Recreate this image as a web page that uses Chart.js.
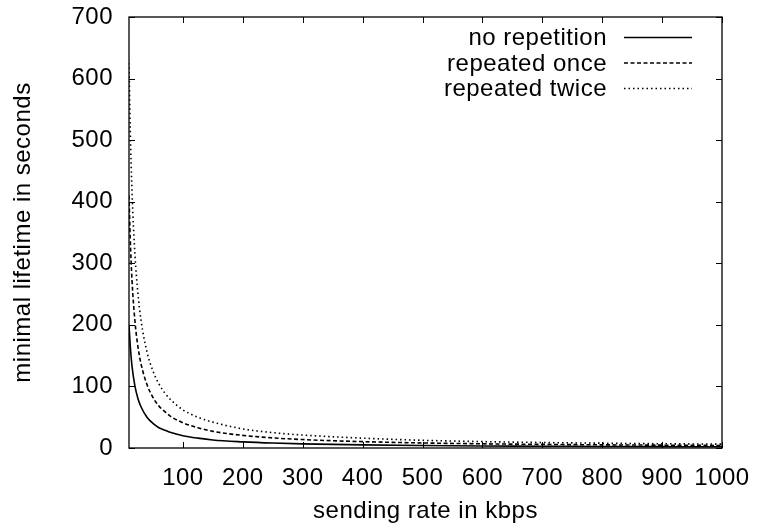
<!DOCTYPE html>
<html>
<head>
<meta charset="utf-8">
<script src="https://cdn.jsdelivr.net/npm/chart.js@4/dist/chart.umd.min.js"></script>
<style>
	html, body { margin:0; padding:0; background:#fff; }
	#wrap { width:759px; height:527px; }
</style>
</head>
<body>
<div id="wrap"><canvas id="chart" width="759" height="527"></canvas></div>
<script>
// --- dados ---
const rateKbps = [10, 12, 15, 20, 25, 30, 40, 50, 60, 70, 80, 100, 125, 150, 200, 250, 300, 400, 500, 600, 700, 800, 900, 1000];
const noRepetition = [200, 167, 133, 100, 80, 67, 50, 40, 33, 29, 25, 20, 16, 13, 10, 8, 6.7, 5, 4, 3.3, 2.9, 2.5, 2.2, 2];
const repeatedOnce = [410, 342, 273, 205, 164, 137, 103, 82, 68, 59, 51, 41, 33, 27, 20.5, 16.4, 13.7, 10.3, 8.2, 6.8, 5.9, 5.1, 4.6, 4.1];
const repeatedTwice = [625, 521, 417, 313, 250, 208, 156, 125, 104, 89, 78, 62, 50, 42, 31, 25, 21, 16, 12.5, 10.4, 8.9, 7.8, 6.9, 6.3];
const seriesLabels = ['no repetition', 'repeated once', 'repeated twice'];
const xTickValues = [100, 200, 300, 400, 500, 600, 700, 800, 900, 1000];
const yTickValues = [0, 100, 200, 300, 400, 500, 600, 700];

const FONT = '"Liberation Sans", Arial, Helvetica, sans-serif';
const FSIZE = 24;
const SPACING = '0.5px';

function pts(ys){ return rateKbps.map((x,i)=>({x, y:ys[i]})); }

// moldura estilo gnuplot com ticks para dentro nos quatro lados
const framePlugin = {
	id: 'gpFrame',
	beforeDraw(chart){ try{ chart.ctx.letterSpacing = SPACING; }catch{} },
	afterDraw(chart){
		const {ctx, chartArea:{left,right,top,bottom}} = chart;
		const xs = chart.scales.x, ys = chart.scales.y;
		const tl = 6;
		ctx.save();
		ctx.strokeStyle = '#000'; ctx.lineWidth = 1.3;
		ctx.strokeRect(left, top, right-left, bottom-top);
		ctx.lineWidth = 1;
		ctx.beginPath();
		for (const v of xTickValues){
			const px = Math.round(xs.getPixelForValue(v)) + .5;
			ctx.moveTo(px, bottom); ctx.lineTo(px, bottom-tl);
			ctx.moveTo(px, top); ctx.lineTo(px, top+tl);
		}
		for (const v of yTickValues){
			const py = Math.round(ys.getPixelForValue(v)) + .5;
			ctx.moveTo(left, py); ctx.lineTo(left+tl, py);
			ctx.moveTo(right, py); ctx.lineTo(right-tl, py);
		}
		ctx.stroke();
		ctx.restore();
	}
};

// legenda: texto alinhado à direita, amostra da linha à direita
const legendPlugin = {
	id: 'gpLegend',
	afterDraw(chart){
		const {ctx} = chart;
		const textRight = 607, x0 = 624, x1 = 692;
		const rowY = [37.5, 63, 88.5];
		ctx.save();
		ctx.font = FSIZE+'px '+FONT;
		try{ ctx.letterSpacing = SPACING; }catch{}
		ctx.textAlign = 'right'; ctx.textBaseline = 'middle';
		chart.data.datasets.forEach((ds,i)=>{
			const y = rowY[i];
			ctx.fillStyle = '#000';
			ctx.fillText(ds.label, textRight, y+1);
			ctx.strokeStyle = '#000';
			ctx.lineWidth = ds.borderWidth;
			ctx.setLineDash(ds.borderDash || []);
			ctx.beginPath(); ctx.moveTo(x0, y); ctx.lineTo(x1, y); ctx.stroke();
		});
		ctx.restore();
	}
};

const ctx = document.getElementById('chart').getContext('2d');
new Chart(ctx, {
	type: 'line',
	data: {
		datasets: [
			{ label: seriesLabels[0], data: pts(noRepetition), borderColor:'#000', borderWidth:1.6, borderDash:[], pointRadius:0, cubicInterpolationMode:'monotone', fill:false },
			{ label: seriesLabels[1], data: pts(repeatedOnce), borderColor:'#000', borderWidth:1.6, borderDash:[4,2.5], pointRadius:0, cubicInterpolationMode:'monotone', fill:false },
			{ label: seriesLabels[2], data: pts(repeatedTwice), borderColor:'#000', borderWidth:1.6, borderDash:[1.5,3], pointRadius:0, cubicInterpolationMode:'monotone', fill:false }
		]
	},
	options: {
		responsive: false,
		animation: false,
		layout: { padding: { left:0, right:37, top:17, bottom:0 } },
		plugins: { legend:{ display:false }, tooltip:{ enabled:false } },
		scales: {
			x: {
				type: 'linear', min: 10, max: 1000,
				grid: { display:false }, border: { display:false },
				afterBuildTicks(scale){ scale.ticks = xTickValues.map(v=>({value:v})); },
				afterFit(scale){ scale.height = 79; scale.paddingRight = 0; scale.paddingLeft = 0; },
				ticks: { color:'#000', font:{ family:FONT, size:FSIZE }, padding:8, maxRotation:0, autoSkip:false, callback:(v)=>String(v) },
				title: { display:true, text:'sending rate in kbps', color:'#000', font:{ family:FONT, size:FSIZE }, padding:{ top:6, bottom:1 } }
			},
			y: {
				type: 'linear', min: 0, max: 700,
				grid: { display:false }, border: { display:false },
				afterBuildTicks(scale){ scale.ticks = yTickValues.map(v=>({value:v})); },
				afterFit(scale){ scale.width = 129; scale.paddingTop = 0; scale.paddingBottom = 0; },
				ticks: { color:'#000', font:{ family:FONT, size:FSIZE }, padding:8, callback:(v)=>String(v) },
				title: { display:true, text:'minimal lifetime in seconds', color:'#000', font:{ family:FONT, size:FSIZE }, padding:{ top:9, bottom:0 } }
			}
		}
	},
	plugins: [framePlugin, legendPlugin]
});
</script>
</body>
</html>
